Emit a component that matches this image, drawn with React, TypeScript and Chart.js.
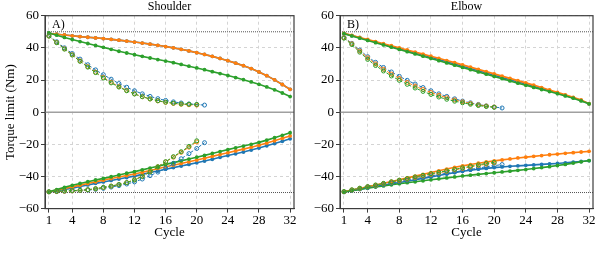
import React, { useEffect, useRef } from 'react';
import { Chart, registerables } from 'chart.js';
Chart.register(...registerables);

// ---------- data ----------
const cycles = [1, 2, 3, 4, 5, 6, 7, 8, 9, 10, 11, 12, 13, 14, 15, 16, 17, 18, 19, 20, 21, 22, 23, 24, 25, 26, 27, 28, 29, 30, 31, 32];
const xTicks = [1, 4, 8, 12, 16, 20, 24, 28, 32];
const yTicks = [-60, -50, -40, -30, -20, -10, 0, 10, 20, 30, 40, 50, 60];
const limitLines = [50, -50];
const zeroLine = [0];

// Shoulder (A)
const shUpBlue = [49.0, 48.5, 48.0, 47.5, 47.0, 46.6, 46.2, 45.8, 45.3, 44.8, 44.2, 43.6, 43.0, 42.3, 41.6, 40.8, 40.0, 39.1, 38.1, 37.0, 35.9, 34.7, 33.4, 32.0, 30.5, 28.9, 27.1, 25.0, 22.7, 20.1, 17.2, 14.2];
const shUpOrange = [49.0, 48.5, 48.0, 47.5, 47.0, 46.6, 46.2, 45.8, 45.3, 44.8, 44.2, 43.6, 43.0, 42.3, 41.6, 40.8, 40.0, 39.1, 38.1, 37.0, 35.9, 34.7, 33.4, 32.0, 30.5, 28.9, 27.1, 25.0, 22.7, 20.1, 17.2, 14.2];
const shUpGreen = [49.3, 47.9, 46.5, 45.2, 43.9, 42.7, 41.5, 40.3, 39.1, 37.9, 36.8, 35.7, 34.7, 33.7, 32.7, 31.8, 30.8, 29.7, 28.6, 27.5, 26.4, 25.2, 24.0, 22.8, 21.5, 20.2, 18.8, 17.3, 15.7, 13.9, 11.9, 9.7];
const shUpBlueD = [47.5, 43.8, 40.0, 36.5, 33.0, 29.5, 26.3, 23.3, 20.5, 17.8, 15.5, 13.3, 11.4, 9.8, 8.4, 7.3, 6.4, 5.7, 5.1, 4.7, 4.4];
const shUpOrangeD = [47.3, 43.3, 39.4, 35.7, 31.9, 28.3, 24.9, 21.6, 18.6, 15.9, 13.5, 11.4, 9.6, 8.2, 7.0, 6.1, 5.4, 4.9, 4.6, 4.4];
const shUpGreenD = [47.3, 43.2, 39.2, 35.5, 31.6, 28.0, 24.6, 21.2, 18.2, 15.6, 13.3, 11.3, 9.6, 8.2, 7.1, 6.2, 5.6, 5.1, 4.9, 4.8];
const shLoBlue = [-49.7, -48.9, -48.1, -47.3, -46.3, -45.3, -44.3, -43.4, -42.5, -41.6, -40.7, -39.8, -38.7, -37.6, -36.6, -35.5, -34.5, -33.5, -32.5, -31.5, -30.4, -29.3, -28.1, -27.0, -25.9, -24.8, -23.6, -22.3, -20.9, -19.5, -18.1, -16.6];
const shLoOrange = [-49.5, -48.5, -47.5, -46.5, -45.4, -44.4, -43.3, -42.3, -41.3, -40.3, -39.4, -38.5, -37.4, -36.3, -35.2, -34.0, -33.0, -31.9, -30.9, -29.8, -28.7, -27.5, -26.4, -25.2, -24.1, -23.0, -21.8, -20.6, -19.2, -17.8, -16.3, -14.8];
const shLoGreen = [-49.5, -48.2, -46.8, -45.5, -44.4, -43.3, -42.2, -41.2, -40.2, -39.1, -38.0, -37.0, -35.9, -34.8, -33.7, -32.5, -31.4, -30.3, -29.2, -28.0, -26.9, -25.7, -24.5, -23.3, -22.2, -21.1, -20.0, -18.8, -17.4, -15.9, -14.4, -12.8];
const shLoBlueD = [-49.6, -49.4, -49.2, -49.0, -48.8, -48.5, -48.0, -47.4, -46.6, -45.7, -44.7, -43.4, -41.6, -39.5, -37.3, -35.0, -32.0, -29.0, -25.8, -22.6, -19.0];
const shLoOrangeD = [-49.6, -49.4, -49.2, -49.0, -48.7, -48.3, -47.7, -46.9, -46.0, -45.0, -43.8, -42.0, -39.8, -37.0, -34.0, -31.0, -28.0, -25.0, -21.8, -18.5];
const shLoGreenD = [-49.5, -49.3, -49.0, -48.8, -48.6, -48.2, -47.6, -46.8, -46.0, -45.0, -43.8, -42.2, -40.0, -37.2, -34.0, -30.8, -27.7, -24.6, -21.3, -17.8];

// Elbow (B)
const elUpBlue = [48.9, 47.6, 46.3, 44.9, 43.6, 42.2, 40.9, 39.5, 38.2, 36.8, 35.5, 34.1, 32.8, 31.4, 30.0, 28.6, 27.2, 25.8, 24.4, 23.0, 21.6, 20.2, 18.8, 17.5, 16.1, 14.7, 13.3, 11.9, 10.4, 9.0, 7.3, 5.2];
const elUpOrange = [49.0, 47.8, 46.5, 45.2, 43.9, 42.6, 41.3, 40.0, 38.7, 37.4, 36.1, 34.8, 33.5, 32.1, 30.8, 29.4, 28.0, 26.6, 25.2, 23.8, 22.4, 21.0, 19.6, 18.2, 16.8, 15.3, 13.8, 12.3, 10.8, 9.2, 7.6, 5.3];
const elUpGreen = [48.8, 47.4, 46.0, 44.6, 43.2, 41.8, 40.4, 39.0, 37.6, 36.2, 34.8, 33.4, 32.0, 30.6, 29.2, 27.8, 26.4, 25.0, 23.6, 22.2, 20.8, 19.4, 18.0, 16.7, 15.4, 14.1, 12.8, 11.5, 10.1, 8.7, 7.0, 5.2];
const elUpBlueD = [46.5, 42.8, 38.6, 34.5, 31.0, 27.8, 25.0, 22.3, 19.8, 17.5, 15.3, 13.3, 11.4, 9.8, 8.3, 6.9, 5.8, 4.8, 3.9, 3.2, 2.6];
const elUpOrangeD = [46.3, 42.5, 38.0, 33.8, 30.0, 26.7, 23.7, 21.0, 18.5, 16.2, 14.1, 12.2, 10.5, 9.0, 7.6, 6.4, 5.4, 4.5, 3.8, 3.2];
const elUpGreenD = [46.0, 42.0, 37.3, 32.8, 29.0, 25.6, 22.5, 19.8, 17.3, 15.0, 12.9, 11.0, 9.4, 8.0, 6.8, 5.8, 4.9, 4.1, 3.5, 3.0];
const elLoBlue = [-49.6, -48.8, -47.9, -47.0, -46.2, -45.4, -44.6, -43.8, -43.0, -42.1, -41.2, -40.3, -39.4, -38.5, -37.6, -36.8, -36.1, -35.5, -35.0, -34.5, -34.1, -33.7, -33.4, -33.1, -32.8, -32.5, -32.2, -31.9, -31.5, -31.1, -30.7, -30.2];
const elLoOrange = [-49.5, -48.5, -47.5, -46.4, -45.3, -44.2, -43.1, -42.0, -40.9, -39.8, -38.7, -37.6, -36.5, -35.4, -34.3, -33.4, -32.6, -31.8, -31.0, -30.3, -29.7, -29.1, -28.5, -28.0, -27.5, -27.0, -26.5, -26.1, -25.6, -25.2, -24.8, -24.4];
const elLoGreen = [-49.7, -48.9, -48.1, -47.3, -46.6, -45.9, -45.2, -44.5, -43.9, -43.3, -42.7, -42.1, -41.5, -40.9, -40.3, -39.7, -39.2, -38.7, -38.2, -37.7, -37.2, -36.7, -36.2, -35.7, -35.1, -34.5, -33.9, -33.2, -32.5, -31.7, -30.9, -30.1];
const elLoBlueD = [-49.6, -48.6, -47.7, -46.8, -45.9, -45.0, -44.1, -43.2, -42.3, -41.4, -40.5, -39.7, -38.8, -38.0, -37.2, -36.4, -35.6, -34.8, -34.0, -33.3, -32.6];
const elLoOrangeD = [-49.5, -48.4, -47.4, -46.4, -45.5, -44.5, -43.5, -42.6, -41.6, -40.7, -39.7, -38.7, -37.8, -36.8, -35.9, -35.0, -34.1, -33.2, -32.4, -31.6];
const elLoGreenD = [-49.4, -48.3, -47.3, -46.3, -45.3, -44.3, -43.3, -42.3, -41.3, -40.3, -39.3, -38.3, -37.4, -36.5, -35.6, -34.6, -33.7, -32.8, -31.9, -31.2];

// ---------- styling ----------
const BLUE = '#1f77b4';
const ORANGE = '#ff7f0e';
const GREEN = '#2ca02c';
const FAMILY = "'Liberation Serif', 'DejaVu Serif', serif";
const FONT = { family: FAMILY, size: 13 };
const TITLE_FONT = { family: FAMILY, size: 12 };
const FRAME = '#3c3c3c';

const pts = (ys: number[]) => ys.map((y, i) => ({ x: cycles[i], y }));

function solid(ys: number[], color: string, order: number) {
  return {
    data: pts(ys), borderColor: color, backgroundColor: color, borderWidth: 1.6,
    pointRadius: 1.9, pointBorderWidth: 0, pointBackgroundColor: color, pointStyle: 'circle',
    order, tension: 0,
  };
}
function dashed(ys: number[], color: string, order: number) {
  return {
    data: pts(ys), borderColor: color, backgroundColor: 'transparent', borderWidth: 1,
    borderDash: [3, 2], pointRadius: 2, pointBorderWidth: 1, pointBorderColor: color,
    pointBackgroundColor: 'transparent', pointStyle: 'circle', order, tension: 0,
  };
}

const refLinesPlugin = {
  id: 'refLines',
  beforeDatasetsDraw(chart: any) {
    const { ctx, chartArea: { left, right } } = chart;
    const y = chart.scales.y;
    ctx.save();
    zeroLine.forEach((v) => {
      const py = y.getPixelForValue(v);
      ctx.strokeStyle = '#a0a0a0'; ctx.lineWidth = 1.5; ctx.setLineDash([]);
      ctx.beginPath(); ctx.moveTo(left, py); ctx.lineTo(right, py); ctx.stroke();
    });
    limitLines.forEach((v) => {
      const py = y.getPixelForValue(v);
      ctx.strokeStyle = '#555'; ctx.lineWidth = 1; ctx.setLineDash([1, 1]);
      ctx.beginPath(); ctx.moveTo(left, py); ctx.lineTo(right, py); ctx.stroke();
    });
    ctx.restore();
  },
};

const framePlugin = {
  id: 'frame',
  afterDatasetsDraw(chart: any, _a: any, opts: any) {
    const { ctx, chartArea: { left, top, right, bottom } } = chart;
    ctx.save();
    ctx.fillStyle = '#000';
    ctx.font = `12px ${FAMILY}`;
    ctx.textBaseline = 'middle';
    ctx.textAlign = 'left';
    ctx.fillText(opts.letter, left + 7, top + 9);
    ctx.strokeStyle = FRAME; ctx.lineWidth = 1.2; ctx.setLineDash([]);
    ctx.strokeRect(left, top, right - left, bottom - top);
    ctx.restore();
  },
};

const fmt = (v: number) => (v < 0 ? '\u2212' + Math.abs(v) : String(v));

function makeConfig(p: { title: string; letter: string; showYTitle: boolean; padLeft: number; padRight: number; yWidth: number; datasets: any[] }) {
  return {
    type: 'line' as const,
    data: { datasets: p.datasets },
    plugins: [refLinesPlugin, framePlugin],
    options: {
      animation: false as const,
      responsive: false,
      devicePixelRatio: 1,
      layout: { padding: { left: p.padLeft, right: p.padRight, top: 0, bottom: 24 } },
      plugins: { legend: { display: false }, tooltip: { enabled: false }, frame: { letter: p.letter } },
      scales: {
        x: {
          type: 'linear', position: 'bottom', min: 0.5, max: 32.5,
          afterBuildTicks: (s: any) => { s.ticks = xTicks.map((v) => ({ value: v })); },
          afterFit: (s: any) => { s.height = 31.4; },
          grid: { color: '#d4d4d4', tickColor: FRAME, tickLength: 4 },
          border: { display: true, color: FRAME, dash: [3, 3] },
          ticks: { font: FONT, color: '#000', padding: 0, maxRotation: 0, autoSkip: false },
          title: { display: true, text: 'Cycle', font: FONT, color: '#000', padding: 0 },
        },
        xTop: {
          type: 'linear', position: 'top', min: 0, max: 1,
          afterFit: (s: any) => { s.height = 15.7; },
          grid: { display: false }, border: { display: false }, ticks: { display: false },
          title: { display: true, text: p.title, font: TITLE_FONT, color: '#000', padding: 0 },
        },
        y: {
          type: 'linear', min: -60, max: 60,
          afterBuildTicks: (s: any) => { s.ticks = yTicks.map((v) => ({ value: v })); },
          afterFit: (s: any) => { s.width = p.yWidth; },
          grid: { color: '#d4d4d4', tickColor: FRAME, tickLength: 4 },
          border: { display: true, color: FRAME, dash: [3, 3] },
          ticks: { font: FONT, color: '#000', padding: 2, callback: (v: any) => fmt(Number(v)) },
          title: { display: p.showYTitle, text: 'Torque limit (Nm)', font: FONT, color: '#000', padding: 0 },
        },
      },
    },
  };
}

function Panel(props: { x: number; config: () => any }) {
  const ref = useRef<HTMLCanvasElement>(null);
  useEffect(() => {
    const chart = new Chart(ref.current as HTMLCanvasElement, props.config() as any);
    return () => chart.destroy();
  }, []);
  return (
    <canvas ref={ref} width={299} height={264}
      style={{ position: 'absolute', left: props.x, top: 0, width: 299, height: 264 }} />
  );
}

const shoulderCfg = () => makeConfig({
  title: 'Shoulder', letter: 'A)', showYTitle: true, padLeft: 2.5, padRight: 1.5, yWidth: 42.5,
  datasets: [
    solid(shUpBlue, BLUE, 6), solid(shUpOrange, ORANGE, 5), solid(shUpGreen, GREEN, 4),
    dashed(shUpBlueD, BLUE, 3), dashed(shUpOrangeD, ORANGE, 2), dashed(shUpGreenD, GREEN, 1),
    solid(shLoBlue, BLUE, 6), solid(shLoOrange, ORANGE, 5), solid(shLoGreen, GREEN, 4),
    dashed(shLoBlueD, BLUE, 3), dashed(shLoOrangeD, ORANGE, 2), dashed(shLoGreenD, GREEN, 1),
  ],
});

const elbowCfg = () => makeConfig({
  title: 'Elbow', letter: 'B)', showYTitle: false, padLeft: 0, padRight: 4, yWidth: 41,
  datasets: [
    solid(elUpBlue, BLUE, 6), solid(elUpOrange, ORANGE, 5), solid(elUpGreen, GREEN, 4),
    dashed(elUpBlueD, BLUE, 3), dashed(elUpOrangeD, ORANGE, 2), dashed(elUpGreenD, GREEN, 1),
    solid(elLoBlue, BLUE, 6), solid(elLoOrange, ORANGE, 5), solid(elLoGreen, GREEN, 4),
    dashed(elLoBlueD, BLUE, 3), dashed(elLoOrangeD, ORANGE, 2), dashed(elLoGreenD, GREEN, 1),
  ],
});

export default function App() {
  return (
    <div style={{ position: 'fixed', left: 0, top: 0, width: 598, height: 264, background: '#fff', overflow: 'hidden' }}>
      <Panel x={0} config={shoulderCfg} />
      <Panel x={299} config={elbowCfg} />
    </div>
  );
}
